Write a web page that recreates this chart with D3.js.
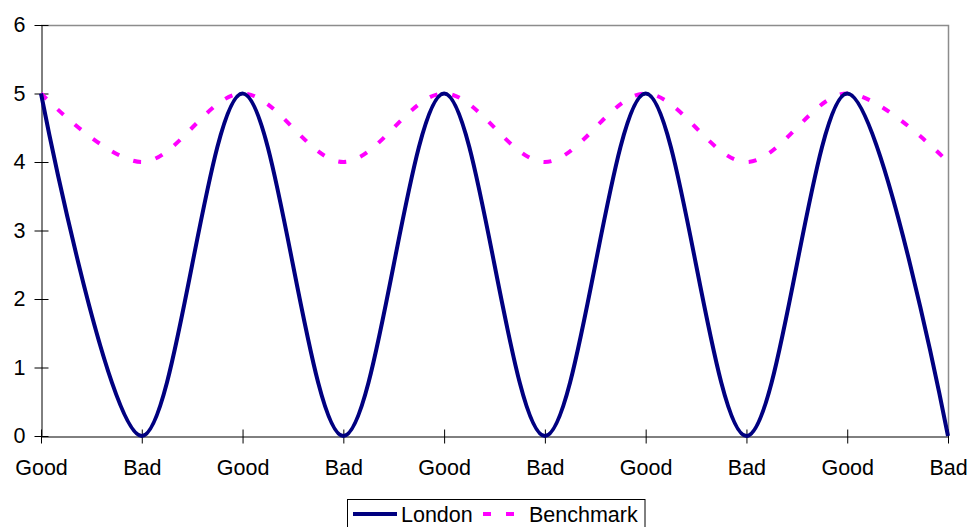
<!DOCTYPE html>
<html>
<head>
<meta charset="utf-8">
<script src="https://cdn.jsdelivr.net/npm/d3@7"></script>
<style>
  html, body { margin: 0; padding: 0; background: #fff; }
  svg { display: block; font-family: "Liberation Sans", Arial, sans-serif; }
</style>
</head>
<body>
<svg id="chart" width="969" height="527"></svg>
<script>
const categories = ["Good", "Bad", "Good", "Bad", "Good", "Bad", "Good", "Bad", "Good", "Bad"];
const londonValues = [5, 0, 5, 0, 5, 0, 5, 0, 5, 0];
const benchmarkValues = [5, 4, 5, 4, 5, 4, 5, 4, 5, 4];
const yTicks = [0, 1, 2, 3, 4, 5, 6];
const seriesNames = ["London", "Benchmark"];

const svg = d3.select("#chart");
const plot = { left: 41, right: 948, top: 25, bottom: 436 };
const fontSize = 21.5;

const x = d3.scalePoint().domain(d3.range(categories.length)).range([plot.left, plot.right]).padding(0);
const y = d3.scaleLinear().domain([0, 6]).range([plot.bottom, plot.top]);

// plot area border (top and right, gray)
svg.append("path")
  .attr("d", `M${plot.left},${plot.top + 0.5}H${plot.right + 0.5}V${plot.bottom}`)
  .attr("fill", "none").attr("stroke", "#8c8c8c").attr("stroke-width", 1.5);

// Y axis
const yAxis = svg.append("g")
  .attr("transform", `translate(${plot.left + 0.5},0)`)
  .call(d3.axisLeft(y).tickValues(yTicks).tickSizeInner(7).tickSizeOuter(0).tickPadding(9).tickFormat(d3.format("d")));
yAxis.selectAll(".tick line").attr("x1", 7);
yAxis.select(".domain").attr("stroke", "#000");
yAxis.selectAll("text").attr("font-size", fontSize).attr("fill", "#000").attr("font-family", "Liberation Sans, Arial, sans-serif").attr("x", -16);

// X axis
const xAxis = svg.append("g")
  .attr("transform", `translate(0,${plot.bottom + 0.5})`)
  .call(d3.axisBottom(x).tickSizeInner(7).tickSizeOuter(0).tickFormat(i => categories[i]));
xAxis.selectAll(".tick line").attr("y1", -7);
xAxis.select(".domain").attr("stroke", "#000");
xAxis.selectAll("text").attr("font-size", fontSize).attr("fill", "#000").attr("font-family", "Liberation Sans, Arial, sans-serif")
  .attr("y", 38.5).attr("dy", 0);

const line = d3.line()
  .x((d, i) => x(i))
  .y(d => y(d))
  .curve(d3.curveCardinal.tension(0));

svg.append("path")
  .datum(benchmarkValues)
  .attr("d", line)
  .attr("fill", "none")
  .attr("stroke", "#ff00ff")
  .attr("stroke-width", 4)
  .attr("stroke-dasharray", "8,15");

svg.append("path")
  .datum(londonValues)
  .attr("d", line)
  .attr("fill", "none")
  .attr("stroke", "#000080")
  .attr("stroke-width", 4);

// Legend
const legend = svg.append("g");
legend.append("rect")
  .attr("x", 347.5).attr("y", 499.5).attr("width", 297.5).attr("height", 40)
  .attr("fill", "#fff").attr("stroke", "#000").attr("stroke-width", 1);
legend.append("line")
  .attr("x1", 353).attr("x2", 397).attr("y1", 514).attr("y2", 514)
  .attr("stroke", "#000080").attr("stroke-width", 4);
legend.append("text")
  .attr("x", 401).attr("y", 522).attr("font-size", fontSize).attr("fill", "#000")
  .text(seriesNames[0]);
legend.append("line")
  .attr("x1", 483).attr("x2", 516).attr("y1", 514).attr("y2", 514)
  .attr("stroke", "#ff00ff").attr("stroke-width", 4).attr("stroke-dasharray", "8,15");
legend.append("text")
  .attr("x", 529).attr("y", 522).attr("font-size", fontSize).attr("fill", "#000")
  .text(seriesNames[1]);
</script>
</body>
</html>
